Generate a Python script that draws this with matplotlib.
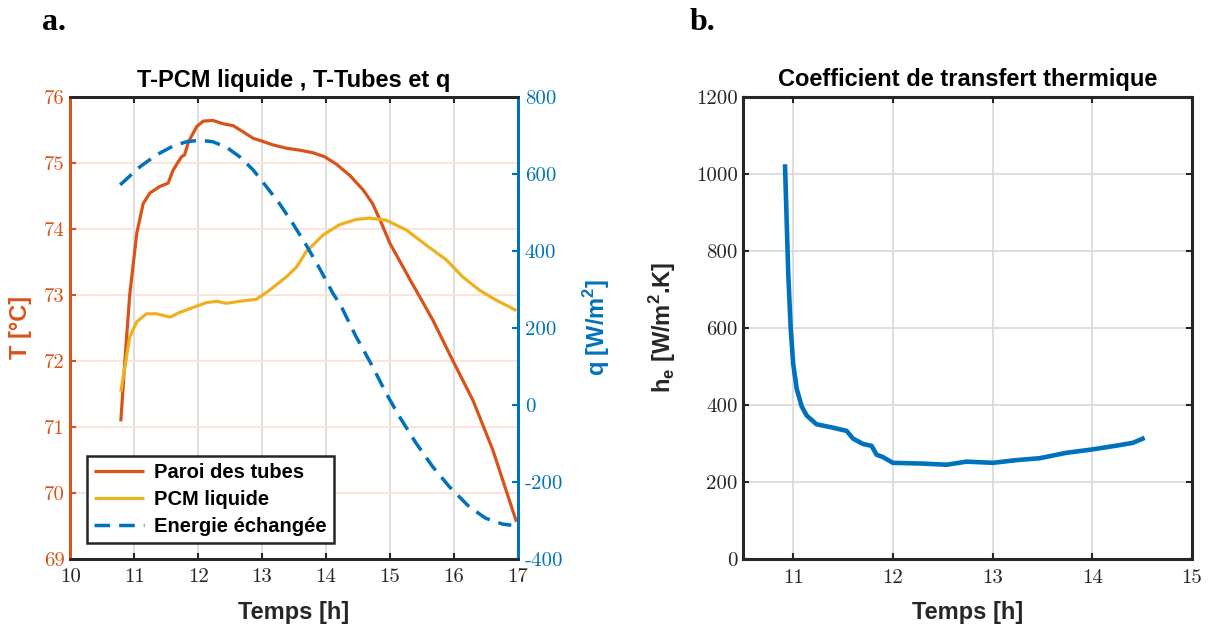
import matplotlib
matplotlib.use('Agg')
import matplotlib.pyplot as plt

plt.rcParams['font.family'] = 'cmr10'
plt.rcParams['axes.unicode_minus'] = False
plt.rcParams['axes.formatter.use_mathtext'] = False
plt.rcParams['lines.solid_capstyle'] = 'butt'
plt.rcParams['lines.dash_capstyle'] = 'butt'

# colours (MATLAB defaults)
ORANGE = '#D95319'
YELLOW = '#EDB120'
BLUE = '#0072BD'
DARK = '#262626'
SANS = 'Liberation Sans'

# --- panel a: wall / PCM temperatures and exchanged energy ---
tubes_t = [10.79, 10.855, 10.93, 11.04, 11.14, 11.245, 11.40, 11.53, 11.61, 11.74,
           11.79, 11.85, 11.98, 12.08, 12.23, 12.39, 12.55, 12.70, 12.86, 12.99,
           13.17, 13.38, 13.59, 13.80, 13.98, 14.16, 14.37, 14.58, 14.73, 14.87,
           15.0, 15.32, 15.67, 15.98, 16.30, 16.61, 16.98]
tubes_T = [71.08, 72.01, 73.0, 73.93, 74.38, 74.54, 74.64, 74.69, 74.89, 75.09,
           75.12, 75.32, 75.55, 75.63, 75.64, 75.59, 75.56, 75.47, 75.37, 75.33,
           75.27, 75.22, 75.19, 75.15, 75.09, 74.98, 74.81, 74.59, 74.38, 74.08,
           73.78, 73.22, 72.62, 72.01, 71.40, 70.65, 69.56]

pcm_t = [10.79, 10.855, 10.93, 11.04, 11.19, 11.35, 11.56, 11.71, 11.93, 12.13,
         12.29, 12.44, 12.65, 12.91, 13.12, 13.38, 13.54, 13.69, 13.95, 14.21,
         14.47, 14.68, 14.94, 15.26, 15.57, 15.88, 16.14, 16.40, 16.66, 16.98]
pcm_T = [71.53, 71.91, 72.36, 72.59, 72.71, 72.71, 72.66, 72.73, 72.81, 72.88,
         72.90, 72.87, 72.90, 72.93, 73.07, 73.27, 73.42, 73.65, 73.90, 74.06,
         74.14, 74.16, 74.13, 73.98, 73.75, 73.53, 73.27, 73.07, 72.92, 72.76]

q_t = [10.78, 11.09, 11.35, 11.61, 11.82, 12.02, 12.23, 12.44, 12.65, 12.86,
       13.07, 13.27, 13.48, 13.69, 13.90, 14.11, 14.24, 14.47, 14.73, 14.94,
       15.15, 15.41, 15.67, 15.93, 16.24, 16.50, 16.76, 16.9]
q_val = [571, 618, 649, 672, 683, 687, 683, 669, 644, 610,
         566, 523, 471, 415, 354, 289, 255, 177, 99, 30,
         -31, -100, -161, -213, -265, -295, -310, -313]

# --- panel b: heat transfer coefficient ---
h_t = [10.918, 10.935, 10.951, 10.975, 11.0, 11.035, 11.085, 11.135, 11.235, 11.37,
       11.536, 11.60, 11.70, 11.787, 11.837, 11.90, 12.0, 12.30, 12.538, 12.738,
       13.005, 13.24, 13.473, 13.74, 14.007, 14.275, 14.408, 14.525]
h_val = [1026, 879, 740, 601, 508, 443, 397, 373, 350, 343,
         333, 313, 299, 294, 271, 265, 250, 248, 245, 253,
         250, 257, 262, 276, 285, 296, 302, 315]

fig = plt.figure(figsize=(12.1, 6.28), dpi=100)
W, H = 1210.0, 628.0

tick_kw = dict(direction='in', length=4.5, width=1.5, labelsize=15)

# ---------------- panel a ----------------
ax1 = fig.add_axes([70.3 / W, (H - 558.7) / H, 447.4 / W, 462 / H])
ax2 = ax1.twinx()

l1, = ax1.plot(tubes_t, tubes_T, color=ORANGE, lw=2.3, label='Paroi des tubes')
l2, = ax1.plot(pcm_t, pcm_T, color=YELLOW, lw=2.3, label='PCM liquide')
l3, = ax2.plot(q_t, q_val, color=BLUE, lw=2.5, dashes=(4.5, 2.6),
               label='Energie échangée')

ax1.set_xlim(10, 17)
ax1.set_ylim(69, 76)
ax2.set_ylim(-400, 800)
ax1.set_xticks(range(10, 18))
ax1.set_yticks(range(69, 77))
ax2.set_yticks(range(-400, 801, 200))

ax1.grid(False)
for x in range(11, 17):
    ax1.axvline(x, color='#DBDBDB', lw=1.3, zorder=0)
for y in range(70, 76):
    ax1.axhline(y, color='#F9E1D7', lw=1.3, zorder=0)

ax1.tick_params(axis='x', top=True, colors=DARK, pad=7, **tick_kw)
ax1.tick_params(axis='y', colors=ORANGE, pad=4, **tick_kw)
ax2.tick_params(axis='y', colors=BLUE, pad=5, **tick_kw)

for a in (ax1, ax2):
    for s in a.spines.values():
        s.set_linewidth(2.0)
        s.set_color(DARK)
    a.spines['left'].set_color(ORANGE)
    a.spines['right'].set_color(BLUE)

ax1.set_title('T-PCM liquide , T-Tubes et q', fontsize=17, fontweight='bold',
              family=SANS, pad=7)

leg = ax2.legend(handles=[l1, l2, l3], loc='lower left',
                 bbox_to_anchor=(0.0367, 0.0333), borderaxespad=0,
                 prop={'family': SANS, 'weight': 'bold', 'size': 14.5},
                 handlelength=2.5, handletextpad=0.5, labelspacing=0.4,
                 borderpad=0.35, fancybox=False, framealpha=1)
leg.get_frame().set_edgecolor(DARK)
leg.get_frame().set_linewidth(1.8)

fig.text(20 / W, 1 - 327.7 / H, 'T [°C]', rotation=90, ha='center', va='center',
         color=ORANGE, fontsize=17, fontweight='bold', family=SANS)
fig.text(597 / W, 1 - 327.7 / H, r'q [W/m$^\mathregular{2}$]', rotation=90,
         ha='center', va='center', color=BLUE, fontsize=17, fontweight='bold',
         family=SANS)
fig.text(294 / W, 1 - 612 / H, 'Temps [h]', ha='center', va='center',
         color=DARK, fontsize=17, fontweight='bold', family=SANS)

# ---------------- panel b ----------------
ax3 = fig.add_axes([743.3 / W, (H - 559) / H, 448.7 / W, 461.7 / H])
ax3.plot(h_t, h_val, color=BLUE, lw=3.3)
ax3.set_xlim(10.5, 15)
ax3.set_ylim(0, 1200)
ax3.set_xticks(range(11, 16))
ax3.set_yticks(range(0, 1201, 200))
ax3.grid(True, color='#DBDBDB', lw=1.3)
ax3.set_axisbelow(True)
ax3.tick_params(axis='both', top=True, right=True, colors=DARK, **tick_kw)
ax3.tick_params(axis='x', pad=7)
ax3.tick_params(axis='y', pad=4)
for s in ax3.spines.values():
    s.set_linewidth(2.2)
    s.set_color(DARK)
ax3.set_title('Coefficient de transfert thermique', fontsize=17,
              fontweight='bold', family=SANS, pad=8)

fig.text(663 / W, 1 - 327.7 / H, r'h$_\mathregular{e}$ [W/m$^\mathregular{2}$.K]',
         rotation=90, ha='center', va='center', color=DARK, fontsize=17,
         fontweight='bold', family=SANS)
fig.text(967.7 / W, 1 - 612 / H, 'Temps [h]', ha='center', va='center',
         color=DARK, fontsize=17, fontweight='bold', family=SANS)

# panel letters
fig.text(41.7 / W, 1 - 30 / H, 'a.', ha='left', va='baseline', fontsize=23,
         fontweight='bold', family='Liberation Serif')
fig.text(690 / W, 1 - 30 / H, 'b.', ha='left', va='baseline', fontsize=23,
         fontweight='bold', family='Liberation Serif')

fig.savefig('out.png', dpi=100)
